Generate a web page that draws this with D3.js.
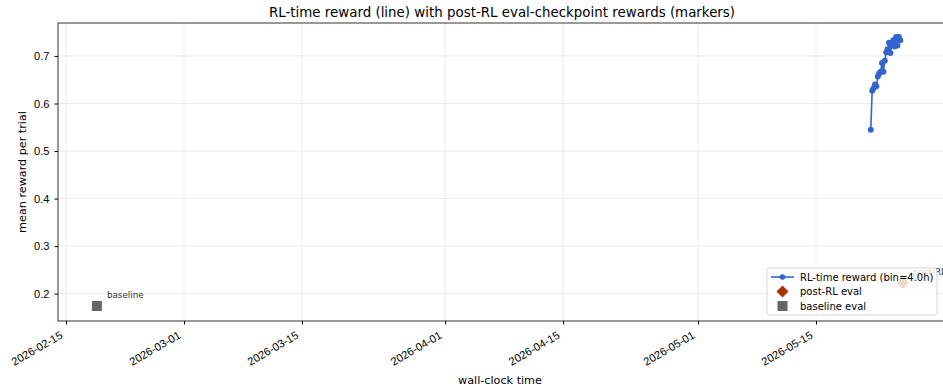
<!DOCTYPE html>
<html>
<head>
<meta charset="utf-8">
<script src="https://cdn.jsdelivr.net/npm/d3@7"></script>
<style>
  html, body { margin: 0; padding: 0; background: #fff; overflow: hidden; }
  svg { display: block; font-family: "DejaVu Sans", sans-serif; }
</style>
</head>
<body>
<script>
// RL-time reward, binned every 4 hours
const rlTimes = [
  "2026-05-21T12:00Z","2026-05-21T16:00Z","2026-05-21T20:00Z","2026-05-22T00:00Z",
  "2026-05-22T04:00Z","2026-05-22T08:00Z","2026-05-22T12:00Z","2026-05-22T16:00Z",
  "2026-05-22T20:00Z","2026-05-23T00:00Z","2026-05-23T04:00Z","2026-05-23T08:00Z",
  "2026-05-23T12:00Z","2026-05-23T16:00Z","2026-05-23T20:00Z","2026-05-24T00:00Z",
  "2026-05-24T04:00Z","2026-05-24T08:00Z","2026-05-24T12:00Z","2026-05-24T16:00Z",
  "2026-05-24T20:00Z","2026-05-25T00:00Z"
];
const rlReward = [
  0.545, 0.627, 0.632, 0.640, 0.636, 0.657, 0.663, 0.667,
  0.685, 0.667, 0.690, 0.708, 0.714, 0.728, 0.706, 0.725,
  0.733, 0.720, 0.740, 0.722, 0.740, 0.733
];

// Evaluation checkpoints
const evalNames = ["baseline", "post-RL"];
const evalTimes = ["2026-02-18T16:00Z", "2026-05-25T07:00Z"];
const evalReward = [0.174, 0.223];

// Axis ticks
const xTickLabels = ["2026-02-15","2026-03-01","2026-03-15","2026-04-01","2026-04-15","2026-05-01","2026-05-15"];
const yTickValues = [0.2, 0.3, 0.4, 0.5, 0.6, 0.7];

const W = 943, H = 390;
const m = { left: 58, right: 944, top: 23, bottom: 321 };
const blue = "#3366cc", red = "#a83200", gray = "#666666";

const svg = d3.select("body").append("svg").attr("width", W).attr("height", H);

const day = 864e5;
const x = d3.scaleUtc()
  .domain([new Date(Date.parse("2026-02-15T00:00Z") - 0.95 * day),
           new Date(Date.parse("2026-05-15T00:00Z") + 15.19 * day)])
  .range([m.left, m.right]);
const y = d3.scaleLinear().domain([0.1425, 0.7693]).range([m.bottom, m.top]);

const xTicks = xTickLabels.map(s => new Date(s + "T00:00Z"));

// grid
const grid = svg.append("g").attr("stroke", "#e6e6e6").attr("stroke-width", 0.8);
grid.selectAll(".gx").data(xTicks).join("line")
  .attr("x1", d => x(d)).attr("x2", d => x(d)).attr("y1", m.top).attr("y2", m.bottom);
grid.selectAll(".gy").data(yTickValues).join("line")
  .attr("x1", m.left).attr("x2", m.right).attr("y1", d => y(d)).attr("y2", d => y(d));

// axes
const fmt = d3.utcFormat("%Y-%m-%d");
const xAxis = svg.append("g").attr("transform", `translate(0,${m.bottom})`)
  .call(d3.axisBottom(x).tickValues(xTicks).tickFormat(fmt).tickSize(3.5).tickPadding(3));
xAxis.select(".domain").remove();
xAxis.selectAll("text")
  .attr("font-size", "11.1px").attr("fill", "#000")
  .attr("text-anchor", "end")
  .attr("dy", null).attr("y", 0)
  .attr("transform", "translate(-3,16.5) rotate(-30)");
xAxis.selectAll("line").attr("stroke", "#000");

const yAxis = svg.append("g").attr("transform", `translate(${m.left},0)`)
  .call(d3.axisLeft(y).tickValues(yTickValues).tickFormat(d3.format(".1f")).tickSize(3.5).tickPadding(5));
yAxis.select(".domain").remove();
yAxis.selectAll("text").attr("font-size", "11.1px").attr("fill", "#000");
yAxis.selectAll("line").attr("stroke", "#000");

// frame
svg.append("rect").attr("x", m.left).attr("y", m.top)
  .attr("width", m.right - m.left).attr("height", m.bottom - m.top)
  .attr("fill", "none").attr("stroke", "#000").attr("stroke-width", 0.8);

const plot = svg.append("g");

// RL line
const rl = rlTimes.map((t, i) => ({ t: new Date(t), v: rlReward[i] }));
plot.append("path").datum(rl)
  .attr("fill", "none").attr("stroke", blue).attr("stroke-width", 1.6)
  .attr("d", d3.line().x(d => x(d.t)).y(d => y(d.v)));
plot.selectAll(".pt").data(rl).join("circle")
  .attr("cx", d => x(d.t)).attr("cy", d => y(d.v)).attr("r", 3).attr("fill", blue);

// eval markers
const evals = evalNames.map((n, i) => ({ n, t: new Date(evalTimes[i]), v: evalReward[i] }));
const sym = d3.symbol().type(d3.symbolSquare);
plot.selectAll(".ev").data(evals).join("path")
  .attr("transform", d => `translate(${x(d.t)},${y(d.v)})` + (d.n === "baseline" ? "" : " rotate(45)"))
  .attr("d", d => d.n === "baseline" ? sym.size(100)() : sym.size(72)())
  .attr("fill", d => d.n === "baseline" ? gray : red);
plot.selectAll(".evl").data(evals).join("text")
  .attr("x", d => x(d.t) + 10).attr("y", d => y(d.v) - 8)
  .attr("font-size", "8.8px").attr("fill", "#333")
  .text(d => d.n);

// title and axis labels
svg.append("text").attr("x", 502).attr("y", 17).attr("text-anchor", "middle")
  .attr("font-size", "13.4px").text("RL-time reward (line) with post-RL eval-checkpoint rewards (markers)");
svg.append("text").attr("x", 500).attr("y", 384).attr("text-anchor", "middle")
  .attr("font-size", "11.2px").text("wall-clock time");
svg.append("text").attr("transform", `translate(26,${(m.top + m.bottom) / 2}) rotate(-90)`)
  .attr("text-anchor", "middle").attr("font-size", "11.2px").text("mean reward per trial");

// legend
const lg = svg.append("g").attr("transform", "translate(767,268)");
lg.append("rect").attr("width", 170).attr("height", 47).attr("rx", 2.5)
  .attr("fill", "#fff").attr("fill-opacity", 0.8).attr("stroke", "#cccccc").attr("stroke-width", 0.8);
const items = [
  { label: "RL-time reward (bin=4.0h)", kind: "line" },
  { label: "post-RL eval", kind: "diamond" },
  { label: "baseline eval", kind: "square" }
];
items.forEach((it, i) => {
  const g = lg.append("g").attr("transform", `translate(0,${9 + i * 14.5})`);
  if (it.kind === "line") {
    g.append("line").attr("x1", 4).attr("x2", 27).attr("stroke", blue).attr("stroke-width", 1.6);
    g.append("circle").attr("cx", 15.5).attr("r", 2.8).attr("fill", blue);
  } else if (it.kind === "diamond") {
    g.append("path").attr("transform", "translate(15.5,0) rotate(45)")
      .attr("d", d3.symbol().type(d3.symbolSquare).size(72)()).attr("fill", red);
  } else {
    g.append("path").attr("transform", "translate(15.5,0)")
      .attr("d", d3.symbol().type(d3.symbolSquare).size(100)()).attr("fill", gray);
  }
  g.append("text").attr("x", 33).attr("y", 3.6).attr("font-size", "10px").text(it.label);
});
</script>
</body>
</html>
